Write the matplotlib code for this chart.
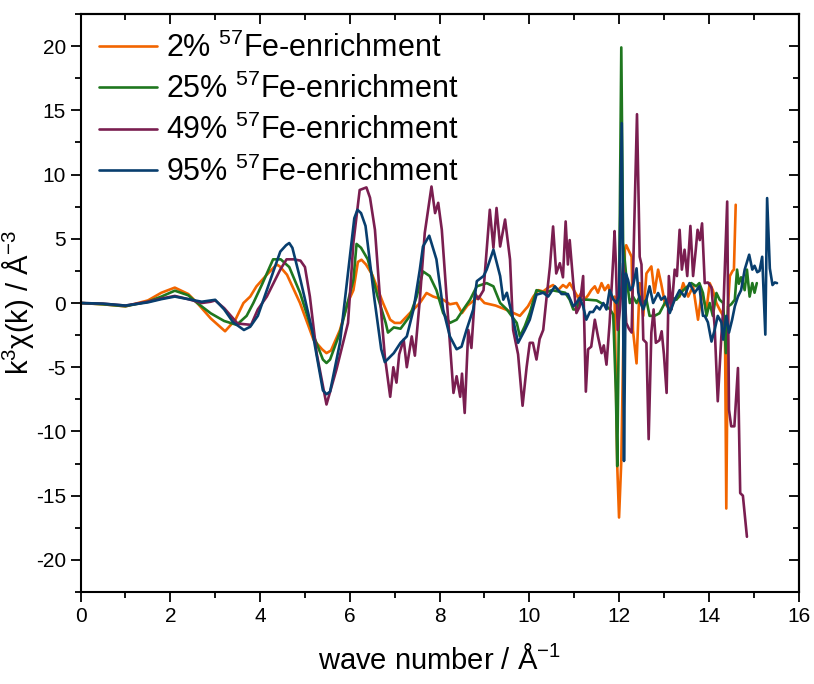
import matplotlib
matplotlib.use("Agg")
import matplotlib.pyplot as plt
from matplotlib.ticker import MultipleLocator

plt.rcParams['font.family'] = ['Liberation Sans', 'DejaVu Sans']
plt.rcParams['mathtext.default'] = 'regular'
plt.rcParams['axes.unicode_minus'] = False

labels = ["2% $^{57}$Fe-enrichment", "25% $^{57}$Fe-enrichment",
          "49% $^{57}$Fe-enrichment", "95% $^{57}$Fe-enrichment"]
colors = ['#f26500', '#1f771f', '#7a1e50', '#083e6e']

k_02 = [0, 0.5, 1.0, 1.5, 1.8, 2.1, 2.4, 2.6, 2.9, 3.22,
        3.45, 3.63, 3.78, 3.92, 4.15, 4.37, 4.44, 4.6, 4.89, 5.19,
        5.38, 5.48, 5.58, 5.78, 5.95, 6.08, 6.18, 6.26, 6.36, 6.5,
        6.74, 6.9, 7.0, 7.13,
        7.34, 7.56, 7.71, 7.86, 8.08, 8.23, 8.38, 8.5, 8.62, 8.87,
        9.0, 9.25, 9.47, 9.79, 9.97, 10.09, 10.2, 10.31, 10.42, 10.53,
        10.64, 10.75, 10.83, 10.9, 11.01, 11.09, 11.16, 11.24, 11.31, 11.38,
        11.46, 11.53, 11.61, 11.68, 11.76, 11.83, 11.9, 11.96, 12.0, 12.05,
        12.13, 12.16, 12.28, 12.31, 12.39, 12.46, 12.54, 12.61, 12.72, 12.79,
        12.87, 12.94, 13.02, 13.13, 13.24, 13.35, 13.43, 13.54, 13.65, 13.76,
        13.84, 13.95, 14.02, 14.09, 14.17, 14.24, 14.32, 14.36, 14.39, 14.43,
        14.47, 14.53, 14.56, 14.6]
y_02 = [0, -0.1, -0.26, 0.2, 0.8, 1.2, 0.7, 0.0, -1.2, -2.2,
        -1.3, 0.0, 0.5, 1.3, 2.2, 3.0, 2.85, 2.2, 0.0, -2.85,
        -3.6, -3.9, -3.7, -2.1, 0.0, 1.0, 3.2, 3.37, 3.0, 2.2,
        0.0, -1.3, -1.55, -1.55,
        -0.78, 0.0, 0.78, 0.5, 0.26, -0.1, 0.0, -0.78, -0.2, 0.5,
        0.0, -0.2, -0.5, -1.0, -0.26, 0.5, 1.0, 0.9, 1.2, 1.4,
        1.0, 1.4, 1.2, 1.55, 0.9, 0.4, 0.8, 0.3, 0.6, 1.0,
        1.3, 0.8, 1.55, 1.0, 1.4, 0.26, 0.5, -12.7, -16.7, -12.3,
        4.15, 4.5, 3.6, -2.1, -4.7, 1.55, -1.0, 2.3, 2.85, 0.8,
        2.6, 1.5, 0.0, -0.5, 0.26, 0.5, 1.55, 0.5, 1.3, -1.3,
        0.78, -0.5, 1.55, 1.0, 0.0, -0.5, -1.0, -1.5, -16.0, 0.0,
        2.1, 2.5, 2.6, 7.65]

k_25 = [0, 0.5, 1.0, 1.5, 1.8, 2.1, 2.4, 2.6, 2.9, 3.2,
        3.48, 3.7, 3.85, 4.05, 4.29, 4.46, 4.65, 4.89, 5.2, 5.4,
        5.48, 5.56, 5.78, 5.95, 6.08, 6.15, 6.25, 6.4, 6.62, 6.8,
        6.85, 6.98, 7.13,
        7.34, 7.49, 7.63, 7.78, 7.93, 8.08, 8.23, 8.38, 8.53, 8.68,
        8.83, 9.05, 9.2, 9.35, 9.5, 9.72, 9.79, 9.9, 10.01, 10.16,
        10.35, 10.5, 10.65, 10.8, 10.9, 10.98, 11.05, 11.12, 11.3, 11.5,
        11.6, 11.7, 11.8, 11.87, 11.93, 11.96, 12.0, 12.05, 12.09, 12.16,
        12.24, 12.31, 12.39, 12.46, 12.54, 12.61, 12.68, 12.79, 12.9, 13.02,
        13.13, 13.28, 13.43, 13.61, 13.72, 13.79, 13.87, 13.95, 14.02, 14.09,
        14.17, 14.24, 14.32, 14.38, 14.43, 14.5, 14.58, 14.63, 14.67, 14.72,
        14.8, 14.85, 14.91, 14.97, 15.02, 15.07]
y_25 = [0, -0.1, -0.25, 0.1, 0.5, 0.96, 0.6, 0.0, -0.8, -1.4,
        -1.7, -1.0, 0.0, 1.5, 3.4, 3.4, 2.8, 0.8, -2.6, -4.4,
        -4.67, -4.4, -2.3, 0.0, 1.8, 4.6, 4.3, 3.4, 0.5, -1.55,
        -2.3, -1.9, -2.0,
        -1.0, 0.5, 2.46, 2.1, 1.0, -0.78, -1.55, -1.3, -0.5, 0.26,
        1.3, 1.55, 1.3, 0.0, -0.5, -1.55, -2.6, -1.8, -0.78, 1.0,
        0.8, 1.0, 0.9, 0.8, 0.26, -0.5, -0.5, 0.26, 0.26, 0.2,
        0.0, -0.2, -0.5, -0.9, -7.0, -12.7, 0.0, 19.9, 4.7, 2.1,
        0.0, 0.5, 0.0, 0.5, 0.0, 0.26, -1.0, -1.0, -0.8, 0.0,
        0.5, 0.26, 1.0, 1.55, 1.3, 1.55, 0.78, -1.0, 0.0, -1.0,
        0.78, 0.26, 0.0, -3.9, -0.26, -0.1, 0.26, 2.6, 1.5, 2.0,
        1.0, 2.6, 0.5, 1.55, 0.8, 1.55]

k_49 = [0, 0.5, 1.0, 1.5, 1.8, 2.1, 2.4, 2.7, 2.9, 3.0,
        3.2, 3.5, 3.8, 3.95, 4.15, 4.45, 4.59, 4.75, 4.9, 5.0,
        5.11, 5.26, 5.48, 5.7, 5.96, 6.08, 6.22, 6.37, 6.45, 6.56,
        6.67, 6.78, 6.9, 6.97, 7.04, 7.1, 7.2, 7.27, 7.38, 7.45,
        7.56, 7.67, 7.82, 7.9, 7.97, 8.05, 8.16, 8.23, 8.31, 8.38,
        8.46, 8.5, 8.56, 8.64, 8.71, 8.79, 8.86, 8.98, 9.05, 9.12,
        9.2, 9.27, 9.35, 9.46, 9.57, 9.64, 9.75, 9.85, 9.94, 10.01,
        10.08, 10.16, 10.23, 10.31, 10.38, 10.46, 10.53, 10.6, 10.68, 10.75,
        10.81, 10.86, 10.9, 10.98, 11.05, 11.12, 11.2, 11.26, 11.31, 11.38,
        11.46, 11.53, 11.61, 11.66, 11.72, 11.79, 11.87, 11.9, 11.93, 11.97,
        12.02, 12.09, 12.16, 12.22, 12.28, 12.33, 12.4, 12.46, 12.5, 12.54,
        12.61, 12.66, 12.72, 12.77, 12.82, 12.9, 12.95, 13.0, 13.06, 13.11,
        13.17, 13.24, 13.29, 13.35, 13.4, 13.46, 13.52, 13.59, 13.65, 13.71,
        13.75, 13.8, 13.85, 13.91, 13.98, 14.06, 14.13, 14.2, 14.28, 14.33,
        14.41, 14.45, 14.5, 14.57, 14.65, 14.7, 14.76, 14.85]
y_49 = [0, -0.05, -0.2, 0.1, 0.35, 0.55, 0.3, 0.0, 0.1, 0.2,
        -0.4, -1.6, -1.7, -0.5, 0.5, 2.6, 3.4, 3.4, 3.3, 2.8,
        0.5, -3.9, -7.9, -5.2, -1.55, 4.7, 8.8, 9.0, 8.2, 5.7,
        0.5, -4.15, -7.3, -5.0, -6.2, -4.0, -2.85, -5.0, -2.6, -4.1,
        0.26, 5.45, 9.07, 7.0, 7.8, 5.7, 0.26, -3.1, -7.0, -5.7,
        -7.3, -5.5, -8.56, -2.1, -3.5, 0.78, 0.3, 1.0, 4.15, 7.26,
        4.3, 7.4, 4.4, 6.5, 3.4, -2.1, -4.0, -8.0, -5.0, -3.1,
        -3.1, -4.4, -2.8, -2.1, 0.26, 2.85, 5.96, 2.3, 3.1, 2.0,
        6.35, 3.0, 4.9, 1.55, -0.78, -0.3, 2.1, -6.9, -3.6, -3.4,
        -1.3, -2.6, -3.9, -3.3, -4.8, -1.55, 3.4, 5.6, 3.0, -2.1,
        -0.5, 3.1, -1.55, -2.0, -2.3, 4.7, 14.7, 3.6, 3.0, -2.85,
        -3.1, -10.6, -2.3, -0.5, -3.1, -2.9, -2.2, -4.0, -7.0, 2.1,
        -0.5, 2.6, 2.1, 5.7, 2.6, 4.15, 2.1, 6.0, 2.1, 4.15,
        5.7, 4.9, 6.2, 1.55, 1.6, 1.2, -1.8, -7.65, -2.6, 0.0,
        7.9, -8.3, -9.6, -9.6, -5.06, -14.8, -15.0, -18.2]

k_95 = [0, 0.5, 1.0, 1.5, 1.8, 2.1, 2.4, 2.7, 3.0, 3.2,
        3.4, 3.64, 3.78, 3.95, 4.2, 4.45, 4.58, 4.65, 4.72, 4.9,
        5.16, 5.4, 5.48, 5.56, 5.78, 6.0, 6.1, 6.17, 6.25, 6.35,
        6.55, 6.7, 6.78, 6.98, 7.13, 7.27,
        7.42, 7.56, 7.63, 7.77, 7.93, 8.08, 8.23, 8.38, 8.49, 8.6,
        8.75, 8.83, 8.98, 9.05, 9.2, 9.35, 9.42, 9.5, 9.64, 9.75,
        9.9, 10.01, 10.16, 10.31, 10.42, 10.57, 10.72, 10.86, 10.98, 11.05,
        11.12, 11.2, 11.27, 11.35, 11.42, 11.5, 11.57, 11.65, 11.72, 11.79,
        11.87, 11.94, 12.0, 12.06, 12.09, 12.11, 12.15, 12.2, 12.25, 12.31,
        12.39, 12.43, 12.48, 12.54, 12.61, 12.68, 12.76, 12.87, 12.94, 13.02,
        13.13, 13.24, 13.35, 13.46, 13.57, 13.68, 13.79, 13.87, 13.91, 13.98,
        14.06, 14.13, 14.2, 14.28, 14.32, 14.39, 14.45, 14.52, 14.58, 14.65,
        14.72, 14.8, 14.9, 14.97, 15.02, 15.08, 15.13, 15.19, 15.26, 15.3,
        15.36, 15.42, 15.47, 15.52]
y_95 = [0, -0.05, -0.2, 0.05, 0.3, 0.5, 0.3, 0.1, 0.25, -0.5,
        -1.5, -2.1, -1.85, -1.0, 1.5, 4.0, 4.5, 4.67, 4.3, 1.8,
        -2.1, -6.8, -7.1, -6.9, -3.1, 3.6, 6.6, 7.26, 7.0, 6.0,
        0.26, -3.6, -4.6, -3.9, -3.1, -2.6,
        -0.5, 2.6, 4.4, 5.24, 3.4, -0.5, -2.6, -3.6, -3.4, -2.1,
        -0.5, 1.7, 2.1, 2.6, 4.15, 2.1, 0.26, 0.8, -1.3, -3.1,
        -2.1, -1.3, 0.65, 0.8, 0.5, 1.3, 0.7, 0.7, -0.26, 0.0,
        0.4, -0.26, -1.3, -0.7, -0.7, -0.26, -0.5, 0.0, -0.5, 1.0,
        0.3, 0.0, 0.5, 14.0, 0.0, -12.3, 2.3, 1.8, 1.0, 1.3,
        2.7, 0.8, 0.0, -0.5, 0.26, 1.3, 0.0, 0.78, 0.26, 0.5,
        -0.78, 0.26, 1.0, 0.5, 1.55, 0.78, 1.3, -1.0, -1.0, -1.5,
        -3.0, -2.1, -1.0, -1.5, -2.85, -1.0, -2.3, -1.3, -0.26, 0.5,
        1.0, 2.6, 3.76, 2.6, 2.9, 2.4, 2.5, 3.6, -2.46, 8.17,
        2.7, 1.4, 1.6, 1.55]

series_k = [k_02, k_25, k_49, k_95]
series_y = [y_02, y_25, y_49, y_95]

fig = plt.figure(figsize=(8.14, 6.84), dpi=100)
ax = fig.add_axes([0.099, 0.1345, 0.882, 0.845])

for kk, yy, lab, col in zip(series_k, series_y, labels, colors):
    ax.plot(kk, yy, color=col, lw=1.9, label=lab,
            solid_joinstyle='round', solid_capstyle='round')

ax.set_xlim(0, 16)
ax.set_ylim(-22.5, 22.5)
ax.xaxis.set_major_locator(MultipleLocator(2))
ax.xaxis.set_minor_locator(MultipleLocator(1))
ax.yaxis.set_major_locator(MultipleLocator(5))
ax.yaxis.set_minor_locator(MultipleLocator(2.5))

ax.tick_params(which='both', direction='out', top=False, right=False,
               labelsize=15, width=1.3, colors='black')
ax.tick_params(which='major', length=7)
ax.tick_params(which='minor', length=4)

axt = ax.secondary_xaxis('top')
axt.xaxis.set_major_locator(MultipleLocator(2))
axt.xaxis.set_minor_locator(MultipleLocator(1))
axt.tick_params(which='both', direction='in', labeltop=False, width=1.3)
axt.tick_params(which='major', length=7)
axt.tick_params(which='minor', length=4)
axr = ax.secondary_yaxis('right')
axr.yaxis.set_major_locator(MultipleLocator(5))
axr.yaxis.set_minor_locator(MultipleLocator(2.5))
axr.tick_params(which='both', direction='in', labelright=False, width=1.3)
axr.tick_params(which='major', length=7)
axr.tick_params(which='minor', length=4)

for sp in ax.spines.values():
    sp.set_linewidth(1.5)
axt.spines['top'].set_linewidth(1.5)
axr.spines['right'].set_linewidth(1.5)

ax.set_xlabel("wave number / Å$^{-1}$", fontsize=21, labelpad=14)
ax.set_ylabel("k$^{3}$χ(k) / Å$^{-3}$", fontsize=21, labelpad=0)

leg = ax.legend(loc='upper left', frameon=False, fontsize=22,
                handlelength=1.9, handletextpad=0.3, labelspacing=0.33,
                borderaxespad=0.2, bbox_to_anchor=(0.0, 1.0))

fig.savefig("out.png", dpi=100)
